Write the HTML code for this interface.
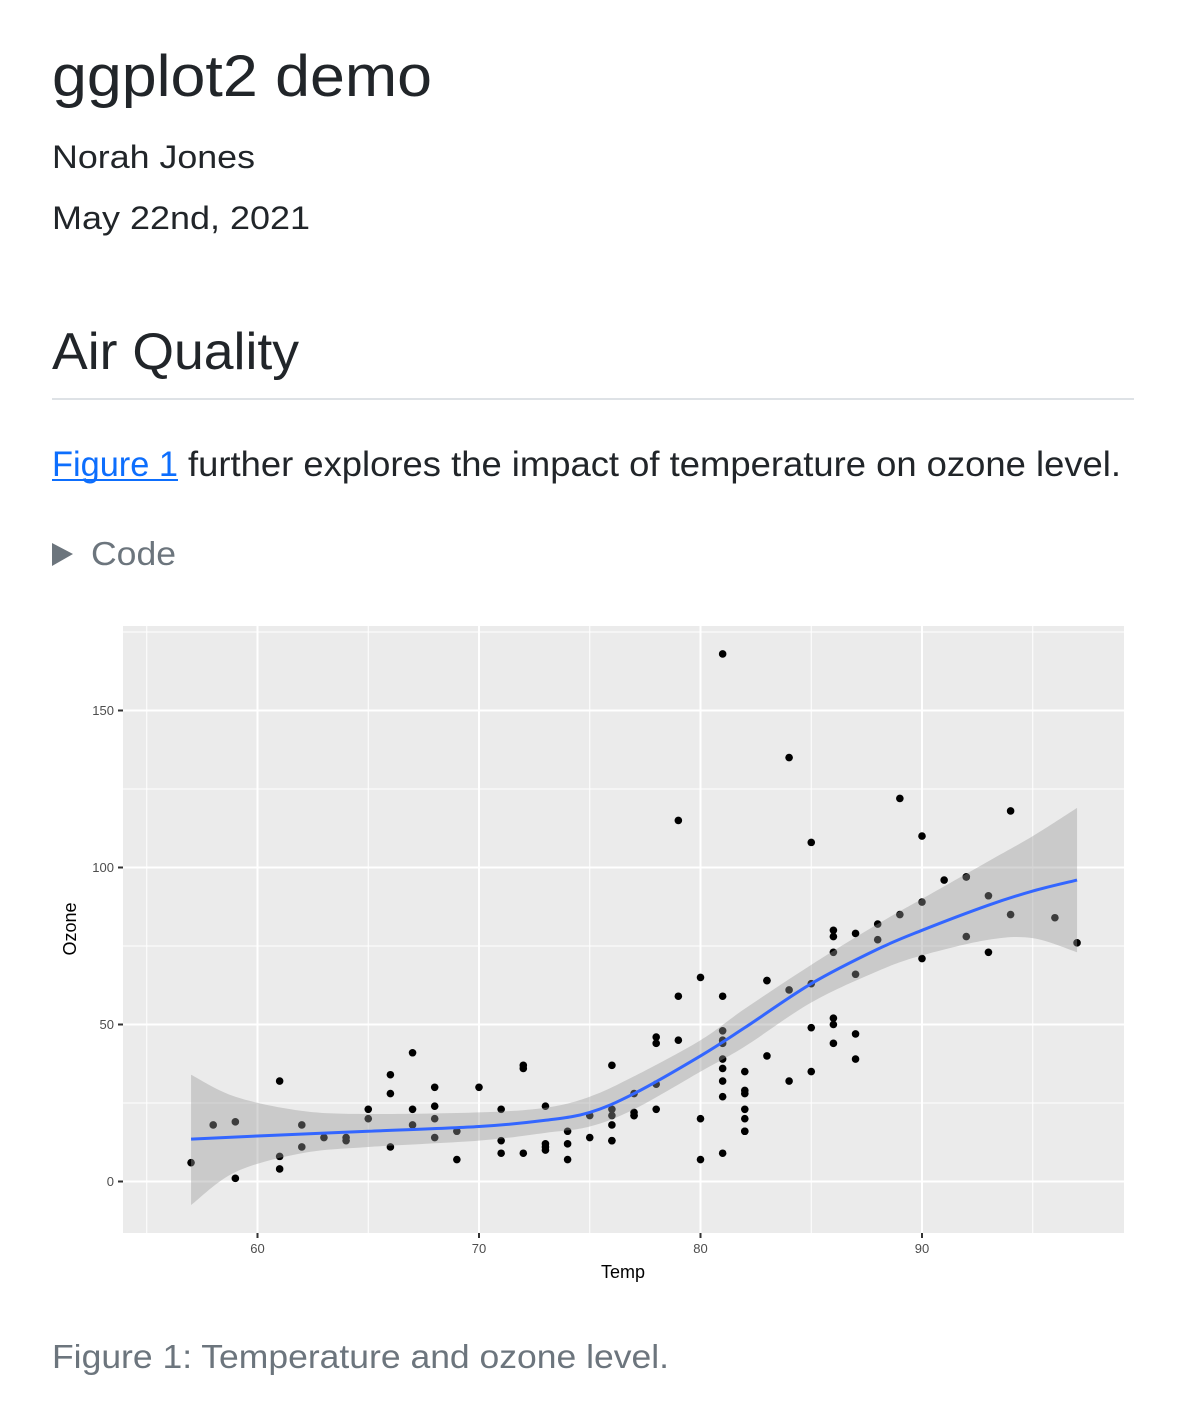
<!DOCTYPE html>
<html><head><meta charset="utf-8"><style>
html,body{margin:0;padding:0;background:#fff;}
svg{display:block;font-family:"Liberation Sans",sans-serif;}
</style></head><body>
<svg id="s" width="1182" height="1416" viewBox="0 0 1182 1416" xmlns="http://www.w3.org/2000/svg">
<text x="52" y="96" font-size="58" fill="#212529" textLength="380" lengthAdjust="spacingAndGlyphs">ggplot2 demo</text>
<text x="52" y="168" font-size="32" fill="#212529" textLength="203" lengthAdjust="spacingAndGlyphs">Norah Jones</text>
<text x="52" y="229" font-size="32" fill="#212529" textLength="258" lengthAdjust="spacingAndGlyphs">May 22nd, 2021</text>
<text x="52" y="369" font-size="52" fill="#212529" textLength="247" lengthAdjust="spacingAndGlyphs">Air Quality</text>
<rect x="52" y="398" width="1082" height="2" fill="#dee2e6"/>
<text x="52" y="476" font-size="35" fill="#0d6efd" textLength="126" lengthAdjust="spacingAndGlyphs">Figure 1</text>
<rect x="52" y="479" width="126" height="2" fill="#0d6efd"/>
<text x="188" y="476" font-size="35" fill="#212529" textLength="933" lengthAdjust="spacingAndGlyphs">further explores the impact of temperature on ozone level.</text>
<polygon points="52,543 73,554 52,566" fill="#6c757d"/>
<text x="91" y="565" font-size="33" fill="#6c757d" textLength="85" lengthAdjust="spacingAndGlyphs">Code</text>
<text x="52" y="1368" font-size="33" fill="#6c757d" textLength="617" lengthAdjust="spacingAndGlyphs">Figure 1: Temperature and ozone level.</text>
<rect x="123" y="626" width="1001" height="607" fill="#ebebeb"/>
<g id="grid"></g>
<g id="pts"></g>
<g id="fit"></g>
<g id="ax" font-size="13" fill="#4d4d4d"></g>
<text x="623" y="1278" font-size="18" fill="#000" text-anchor="middle">Temp</text>
<text transform="translate(76,929) rotate(-90)" font-size="18" fill="#000" text-anchor="middle">Ozone</text>
</svg>
<script>
var NS="http://www.w3.org/2000/svg";
function X(t){return 257.5+(t-60)*22.15;}
function Y(o){return 1181.5-o*3.14;}
function el(p,n,a){var e=document.createElementNS(NS,n);for(var k in a)e.setAttribute(k,a[k]);p.appendChild(e);return e;}
var g=document.getElementById('grid'),ax=document.getElementById('ax');
[55,65,75,85,95].forEach(function(t){el(g,'line',{x1:X(t),x2:X(t),y1:626,y2:1233,stroke:'#fff','stroke-width':1});});
[25,75,125,175].forEach(function(o){el(g,'line',{x1:123,x2:1124,y1:Y(o),y2:Y(o),stroke:'#fff','stroke-width':1});});
[60,70,80,90].forEach(function(t){el(g,'line',{x1:X(t),x2:X(t),y1:626,y2:1233,stroke:'#fff','stroke-width':2});
 el(ax,'line',{x1:X(t),x2:X(t),y1:1233,y2:1238,stroke:'#333','stroke-width':2});
 var tx=el(ax,'text',{x:X(t),y:1253,'text-anchor':'middle'});tx.textContent=t;});
[0,50,100,150].forEach(function(o){el(g,'line',{x1:123,x2:1124,y1:Y(o),y2:Y(o),stroke:'#fff','stroke-width':2});
 el(ax,'line',{x1:118,x2:123,y1:Y(o),y2:Y(o),stroke:'#333','stroke-width':2});
 var tx=el(ax,'text',{x:114,y:Y(o)+4.5,'text-anchor':'end'});tx.textContent=o;});
var oz="41 36 12 18 NA 28 23 19 8 NA 7 16 11 14 18 14 34 6 30 11 1 11 4 32 NA NA NA 23 45 115 37 NA NA NA NA NA NA 29 NA 71 39 NA NA 23 NA NA 21 37 20 12 13 NA NA NA NA NA NA NA NA NA NA 135 49 32 NA 64 40 77 97 97 85 NA 10 27 NA 7 48 35 61 79 63 16 NA NA 80 108 20 52 82 50 64 59 39 9 16 78 35 66 122 89 110 NA NA 44 28 65 NA 22 59 23 31 44 21 9 NA 45 168 73 NA 76 118 84 85 96 78 73 91 47 32 20 23 21 24 44 21 28 9 13 46 18 13 24 16 13 23 36 7 14 30 NA 14 18 20".split(" ");
var tp="67 72 74 62 56 66 65 59 61 69 74 69 66 68 58 64 66 57 68 62 59 73 61 61 57 58 57 67 81 79 76 78 74 67 84 85 79 82 87 90 87 93 92 82 80 79 77 72 65 73 76 77 76 76 76 75 78 73 80 77 83 84 85 81 84 83 83 88 92 92 89 82 73 81 91 80 81 82 84 87 85 74 81 82 86 85 82 86 88 86 83 81 81 81 82 86 85 87 89 90 90 92 86 86 82 80 79 77 79 76 78 78 77 72 75 79 81 86 88 97 94 96 94 91 92 93 93 87 84 80 78 75 73 81 76 77 71 71 78 67 76 68 82 64 71 81 69 63 70 77 75 76 68".split(" ");
var p=document.getElementById('pts');
for(var i=0;i<oz.length;i++){if(oz[i]=="NA")continue;el(p,'circle',{cx:X(+tp[i]),cy:Y(+oz[i]),r:3.8,fill:'#000'});}
var f=document.getElementById('fit');
var fitd=[[57,13.5],[60,14.5],[65,16],[70,17.5],[73,19.5],[75,22],[77,28],[80,40],[82,49],[85,63],[88,74],[90,80],[93,88],[95,92.5],[97,96]];
var up=[[57,34],[59,27],[62,22.5],[65,21.5],[70,22],[73,23.5],[75,27],[77,33.5],[80,45],[82,55],[85,69],[88,82],[90,90],[93,102],[95,110],[97,119]];
var lo=[[57,-7.5],[59,3],[62,9],[65,11],[70,13],[73,15.5],[75,17.5],[77,23],[80,35],[82,43],[85,57],[88,67],[90,72],[93,77],[95,77.5],[97,73]];
function segs(pts){var s="";for(var k=0;k<pts.length-1;k++){var p0=pts[Math.max(k-1,0)],p1=pts[k],p2=pts[k+1],p3=pts[Math.min(k+2,pts.length-1)];
var c1x=X(p1[0])+(X(p2[0])-X(p0[0]))/6,c1y=Y(p1[1])+(Y(p2[1])-Y(p0[1]))/6,c2x=X(p2[0])-(X(p3[0])-X(p1[0]))/6,c2y=Y(p2[1])-(Y(p3[1])-Y(p1[1]))/6;
s+=" C"+c1x+","+c1y+" "+c2x+","+c2y+" "+X(p2[0])+","+Y(p2[1]);}return s;}
var lr=lo.slice().reverse();
var d="M"+X(up[0][0])+","+Y(up[0][1])+segs(up)+" L"+X(lr[0][0])+","+Y(lr[0][1])+segs(lr)+"Z";
el(f,'path',{d:d,fill:'#999999','fill-opacity':0.4});
el(f,'path',{d:"M"+X(fitd[0][0])+","+Y(fitd[0][1])+segs(fitd),fill:'none',stroke:'#3366ff','stroke-width':3});
</script>
</body></html>
